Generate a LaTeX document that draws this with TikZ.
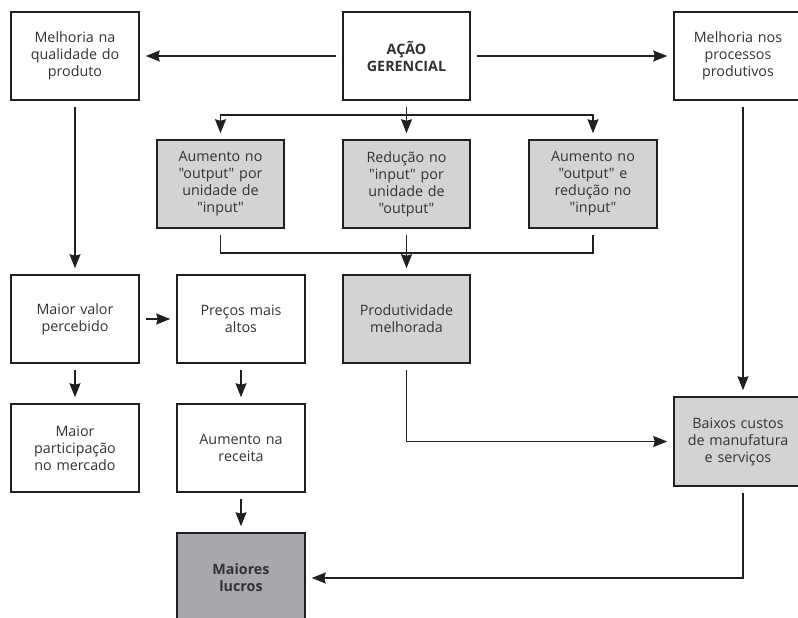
\documentclass[tikz,border=0pt]{standalone}
\usepackage{fontspec}
\setmainfont{Open Sans}[Ligatures=TeXOff]
\usetikzlibrary{arrows.meta}
\definecolor{ink}{HTML}{231F20}
\definecolor{lgray}{HTML}{D1D3D4}
\definecolor{dgray}{HTML}{A7A9AC}
\tikzset{
  box/.style={draw=ink, line width=1.5pt, rectangle, minimum width=128pt, minimum height=88pt,
    align=center, text width=122pt, font=\fontsize{14.3}{17}\selectfont, text=ink!92, inner sep=0pt},
  lbox/.style={box, fill=lgray},
  dbox/.style={box, fill=dgray},
  conn/.style={draw=ink, line width=1.4pt, shorten <=6pt},
  arr/.style={conn, -{Stealth[length=14pt,width=11pt,inset=1.5pt]}, shorten >=6pt},
}
\begin{document}
\begin{tikzpicture}[x=1pt,y=-1pt]
\useasboundingbox (0,0) rectangle (798,618);
\clip (0,0) rectangle (798,618);
% row 1
\node[box] (qual) at (75,56) {Melhoria na\\qualidade do\\produto};
\node[box, minimum width=127pt] (acao) at (406.5,56) {\textbf{AÇÃO}\\\textbf{GERENCIAL}};
\node[box] (proc) at (738,56) {Melhoria nos\\processos\\produtivos};
% row 2
\node[lbox, minimum width=127pt] (a) at (220.5,184) {Aumento no\\"output" por\\unidade de\\"input"};
\node[lbox, minimum width=127pt] (b) at (406.5,184) {Redução no\\"input" por\\unidade de\\"output"};
\node[lbox] (c) at (593,184) {Aumento no\\"output" e\\redução no\\"input"};
% row 3
\node[box] (valor) at (75,319) {Maior valor\\percebido};
\node[box] (precos) at (241,319) {Preços mais\\altos};
\node[lbox, minimum width=127pt] (prod) at (406.5,319) {Produtividade\\melhorada};
\node[lbox, minimum height=89pt] (custos) at (738,441.5) {Baixos custos\\de manufatura\\e serviços};
% row 4
\node[box] (part) at (75,448) {Maior\\participação\\no mercado};
\node[box] (receita) at (241,448) {Aumento na\\receita};
\node[dbox, minimum height=90pt] (lucros) at (241,578) {\textbf{Maiores}\\\textbf{lucros}};
% helper coordinates
\coordinate (top) at (406.5,115);
\coordinate (bot) at (406.5,253);
% connectors
\draw[arr] (acao) -- (qual);
\draw[arr] (acao) -- (proc);
\draw[arr] (acao) -- (b);
\draw[arr, shorten <=0pt] (top) -| (a);
\draw[arr, shorten <=0pt] (top) -| (c);
\draw[conn] (a) |- (bot);
\draw[conn, shorten <=0pt, shorten >=6pt] (bot) -| (c);
\draw[arr] (b) -- (prod);
\draw[arr] (qual) -- (valor);
\draw[arr] (valor) -- (precos);
\draw[arr] (valor) -- (part);
\draw[arr] (precos) -- (receita);
\draw[arr] (receita) -- (lucros);
\draw[arr] (prod) |- (custos);
\draw[arr] ([xshift=5pt]proc.south) -- ([xshift=5pt]custos.north);
\draw[arr] ([xshift=5pt]custos.south) |- (lucros.east);
\end{tikzpicture}
\end{document}
